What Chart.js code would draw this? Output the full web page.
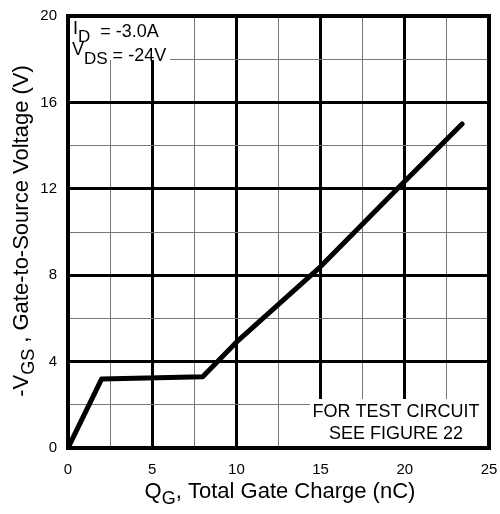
<!DOCTYPE html>
<html>
<head>
<meta charset="utf-8">
<script src="https://cdn.jsdelivr.net/npm/chart.js@4.4.0/dist/chart.umd.min.js"></script>
<style>
body { margin: 0; background: #fff; }
#wrap { width: 500px; height: 514px; }
</style>
</head>
<body>
<div id="wrap"><canvas id="gateChart" width="500" height="514"></canvas></div>
<script>
// gate charge curve
const chargeNC = [0, 2, 8, 10, 15, 20, 23.4];
const vgsVolts = [0, 3.2, 3.3, 4.9, 8.4, 12.35, 15];
const xTickLabels = [0, 5, 10, 15, 20, 25];
const yTickLabels = [0, 4, 8, 12, 16, 20];

const FONT = "Arial, 'Liberation Sans', sans-serif";

// draws text made of parts [text, size, dy], centered or left aligned
function drawParts(ctx, parts, x, y, align) {
    let total = 0;
    parts.forEach(p => {
        ctx.font = p[1] + 'px ' + FONT;
        total += ctx.measureText(p[0]).width;
    });
    let cx = align === 'center' ? x - total / 2 : x;
    ctx.textAlign = 'left';
    ctx.textBaseline = 'alphabetic';
    parts.forEach(p => {
        ctx.font = p[1] + 'px ' + FONT;
        ctx.fillText(p[0], cx, y + (p[2] || 0));
        cx += ctx.measureText(p[0]).width;
    });
}

const framePlugin = {
    id: 'frame',
    beforeDatasetsDraw(chart) {
        const ctx = chart.ctx;
        const a = chart.chartArea;
        ctx.save();
        // white boxes behind the notes
        ctx.fillStyle = '#fff';
        ctx.fillRect(a.left, a.top, 170 - a.left, 60 - a.top);
        ctx.fillRect(310, 399, a.right - 310, a.bottom - 399);
        ctx.strokeStyle = '#000';
        ctx.lineWidth = 4;
        ctx.strokeRect(a.left, a.top, a.right - a.left, a.bottom - a.top);
        ctx.restore();
    },
    afterDraw(chart) {
        const ctx = chart.ctx;
        ctx.save();
        ctx.fillStyle = '#000';
        // conditions, top left
        drawParts(ctx, [['I', 18, -3], ['D', 17, 5], ['  = -3.0A', 18, 0]], 73, 37, 'left');
        drawParts(ctx, [['V', 18, -6], ['DS', 17, 3], [' = -24V', 18, 0]], 72, 61, 'left');
        // note, bottom right
        drawParts(ctx, [['FOR TEST CIRCUIT', 18, 0]], 396, 417, 'center');
        drawParts(ctx, [['SEE FIGURE 22', 18, 0]], 396, 439, 'center');
        // x title
        drawParts(ctx, [['Q', 22, 0], ['G', 18, 6], [', Total Gate Charge (nC)', 22, 0]], 280, 498, 'center');
        // y title
        ctx.translate(28, 231);
        ctx.rotate(-Math.PI / 2);
        drawParts(ctx, [['-V', 22, 0], ['GS', 18, 6], [' , Gate-to-Source Voltage (V)', 22, 0]], 0, 0, 'center');
        ctx.restore();
    }
};

function gridWidth(c, labels) {
    return labels.includes(c.tick.value) ? 3 : 1;
}
function gridColor(c, labels) {
    return labels.includes(c.tick.value) ? '#000' : '#777';
}

new Chart(document.getElementById('gateChart'), {
    type: 'line',
    data: {
        datasets: [{
            data: chargeNC.map((q, i) => ({ x: q, y: vgsVolts[i] })),
            borderColor: '#000',
            borderWidth: 5,
            borderJoinStyle: 'round',
            borderCapStyle: 'round',
            pointRadius: 0,
            tension: 0,
            fill: false
        }]
    },
    options: {
        responsive: false,
        animation: false,
        layout: { padding: { top: 16, right: 11, left: 0, bottom: 0 } },
        plugins: { legend: { display: false }, tooltip: { enabled: false } },
        scales: {
            x: {
                type: 'linear',
                min: 0,
                max: 25,
                afterFit(s) { s.height = 66; s.paddingLeft = 0; s.paddingRight = 0; },
                border: { display: false },
                grid: {
                    drawTicks: false,
                    lineWidth: c => gridWidth(c, xTickLabels),
                    color: c => gridColor(c, xTickLabels)
                },
                ticks: {
                    stepSize: 2.5,
                    padding: 13,
                    maxRotation: 0,
                    autoSkip: false,
                    color: '#000',
                    font: { family: FONT, size: 15 },
                    callback: v => xTickLabels.includes(v) ? v : ''
                }
            },
            y: {
                type: 'linear',
                min: 0,
                max: 20,
                afterFit(s) { s.width = 68; s.paddingTop = 0; s.paddingBottom = 0; },
                border: { display: false },
                grid: {
                    drawTicks: false,
                    lineWidth: c => gridWidth(c, yTickLabels),
                    color: c => gridColor(c, yTickLabels)
                },
                ticks: {
                    stepSize: 2,
                    padding: 11,
                    autoSkip: false,
                    color: '#000',
                    font: { family: FONT, size: 15 },
                    callback: v => yTickLabels.includes(v) ? v : ''
                }
            }
        }
    },
    plugins: [framePlugin]
});
</script>
</body>
</html>
